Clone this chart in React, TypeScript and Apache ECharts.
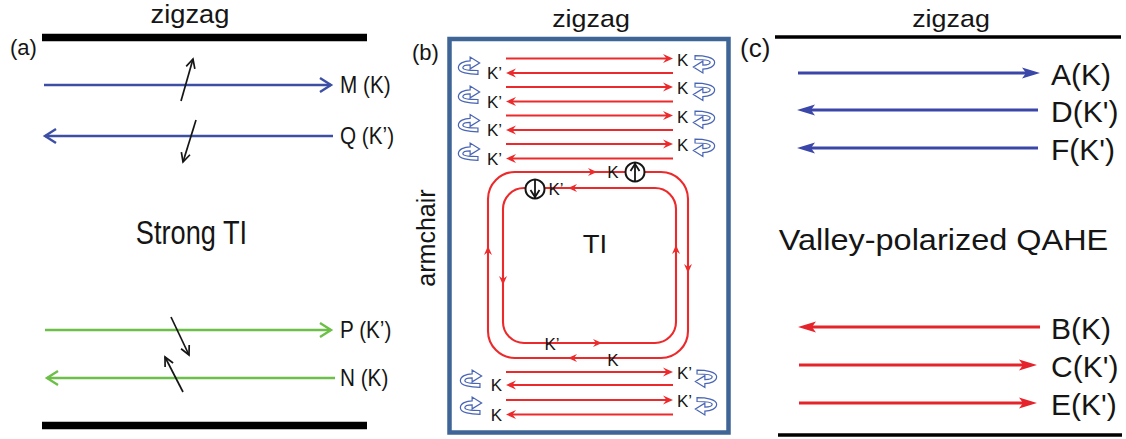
import React, { useEffect, useRef } from "react";
import * as echarts from "echarts";

const WIDTH = 1126;
const HEIGHT = 439;
const FONT = "'Liberation Sans', Arial, Helvetica, sans-serif";

// ---------------- Panel (a): strong TI ----------------
const aBarLines = [[42, 367, 37.5], [42, 367, 425.5]]; // x0, x1, y
const aEdgeArrows = [[44, 331, 85], [333, 45, 136], [45, 331, 330], [335, 47, 378]]; // xStart, xTip, y
const aEdgeLabels = ["M (K)", "Q (K’)", "P (K’)", "N (K)"];
const aEdgeKinds = ["blue", "blue", "green", "green"];
const aSpinArrows = [[181, 101, 193, 59], [196, 120, 183, 162], [171, 317, 189, 355], [183, 392, 165, 357]]; // x0,y0 -> x1,y1

// ---------------- Panel (b): ribbon ----------------
const bFrame = [449.5, 39, 728.5, 432.5]; // left, top, right, bottom
const bStripX = [506, 673];
const bStripY = [58.5, 73, 87, 101.5, 115.5, 130, 144, 158.5, 372, 385, 400, 414.5];
const bStripDir = [1, -1, 1, -1, 1, -1, 1, -1, 1, -1, 1, -1];
const bStripLabels = ["K", "K’", "K", "K’", "K", "K’", "K", "K’", "K’", "K", "K’", "K"];
const bTurnLeft = [[469, 66], [469, 95], [469, 123.5], [469, 152], [471, 379], [471, 406]];
const bTurnRight = [[704, 64], [704, 91.5], [704, 119.5], [704, 147.5], [706, 378.5], [706, 406]];
const bLoops = [[488, 172, 688, 358], [503, 188, 676, 343]]; // left, top, right, bottom
const bLoopArrows = [
  [592, 172, 1, 0], [688, 268, 0, 1], [573, 358, -1, 0], [488, 251, 0, -1],
  [573, 188, -1, 0], [503, 280, 0, 1], [597, 343, 1, 0], [676, 250, 0, -1],
]; // x, y, dirX, dirY
const bLoopLabels = ["K", "K’", "K’", "K"];
const bLoopLabelPos = [[613, 172], [556, 189], [552, 344], [613, 360]];
const bSpinCircles = [[635, 172, 1], [535, 189, -1]]; // cx, cy, spin (1 up, -1 down)

// ---------------- Panel (c): valley-polarized QAHE ----------------
const cRules = [[775, 1121, 37], [778, 1122, 435]];
const cEdgeArrows = [[798, 1040, 73], [1038, 797, 110], [1038, 797, 148], [1040, 798, 327], [799, 1037, 365], [799, 1037, 403]];
const cEdgeLabels = ["A(K)", "D(K')", "F(K')", "B(K)", "C(K')", "E(K')"];
const cEdgeKinds = ["blue", "blue", "blue", "red", "red", "red"];

// ---------------- Titles ----------------
const titleTexts = ["zigzag", "zigzag", "zigzag", "(a)", "(b)", "(c)", "Strong TI", "TI", "Valley-polarized QAHE", "armchair"];
const titlePos = [[190, 14.5], [591, 18.5], [951, 18.5], [10, 47], [412, 52], [740, 47.5], [191.5, 232.5], [595, 244], [943.5, 240], [426, 238]];

// styles (kept apart from data)
const titleStyle = [
  { size: 26, align: "center", sx: 1.05, rot: 0 },
  { size: 24, align: "center", sx: 1.12, rot: 0 },
  { size: 24, align: "center", sx: 1.12, rot: 0 },
  { size: 22, align: "left", sx: 1, rot: 0 },
  { size: 22, align: "left", sx: 1, rot: 0 },
  { size: 26, align: "left", sx: 1, rot: 0 },
  { size: 34, align: "center", sx: 0.8, rot: 0 },
  { size: 25, align: "center", sx: 1.1, rot: 0 },
  { size: 29, align: "center", sx: 1.12, rot: 0 },
  { size: 25, align: "center", sx: 1, rot: Math.PI / 2 },
];
const COLORS: any = {
  blueA: "#3D4FA5",
  green: "#6CBF47",
  redB: "#EC2A2C",
  blueC: "#3A46A8",
  redC: "#E5232B",
  frame: "#3E6595",
  turn: "#4864B4",
  ink: "#151515",
};

const TURN_PATH: [string, number[]][] = [
  ["M", [8, 7.5]],
  ["C", [0, 7.5, -9.5, 6, -9.5, 1.5]],
  ["C", [-9.5, -2.5, -4, -4.5, 1, -4.5]],
  ["L", [1, -8]],
  ["L", [9.5, -2.75]],
  ["L", [1, 2.5]],
  ["L", [1, -1]],
  ["C", [-3, -1, -5.5, 0, -5.5, 1.5]],
  ["C", [-5.5, 3.5, 0, 4, 8, 4]],
  ["Z", []],
];
const TURN_SCALE = 1.12;

function turnPath(cx: number, cy: number, s: number) {
  const k = s * TURN_SCALE;
  return TURN_PATH.map(
    ([c, arr]) => c + " " + arr.map((v, i) => (i % 2 === 0 ? cx + k * v : cy + k * v).toFixed(2)).join(" ")
  ).join(" ");
}

function head(tip: number[], from: number[], len: number, half: number, notch?: number) {
  const dx = tip[0] - from[0];
  const dy = tip[1] - from[1];
  const L = Math.hypot(dx, dy) || 1;
  const ux = dx / L;
  const uy = dy / L;
  const px = -uy;
  const py = ux;
  const bx = tip[0] - ux * len;
  const by = tip[1] - uy * len;
  const pts: number[][] = [[bx + px * half, by + py * half], [tip[0], tip[1]], [bx - px * half, by - py * half]];
  if (notch) pts.push([tip[0] - ux * notch, tip[1] - uy * notch]);
  return pts;
}

function txt(x: number, y: number, text: string, size: number, align: string, extra: any = {}) {
  return {
    type: "text",
    x,
    y,
    ...extra,
    style: {
      text,
      fontSize: size,
      fontFamily: FONT,
      fill: COLORS.ink,
      align,
      verticalAlign: "middle",
    },
  };
}

function series(name: string, data: any[], renderItem: any, z = 2) {
  return {
    type: "custom",
    name,
    coordinateSystem: "cartesian2d",
    data,
    renderItem,
    silent: true,
    z,
    clip: false,
  };
}

function buildOption() {
  return {
    animation: false,
    backgroundColor: "#ffffff",
    grid: { left: 0, right: 0, top: 0, bottom: 0 },
    xAxis: { type: "value", min: 0, max: WIDTH, show: false },
    yAxis: { type: "value", min: 0, max: HEIGHT, inverse: true, show: false },
    series: [
      // panel (a) thick bars
      series("aBars", aBarLines, (p: any, api: any) => {
        const [x0, x1, y] = aBarLines[p.dataIndex];
        const a = api.coord([x0, y]);
        const b = api.coord([x1, y]);
        return { type: "line", shape: { x1: a[0], y1: a[1], x2: b[0], y2: b[1] }, style: { stroke: "#000", lineWidth: 7.5 } };
      }),
      // panel (a) edge arrows
      series("aEdges", aEdgeArrows, (p: any, api: any) => {
        const i = p.dataIndex;
        const [x0, x1, y] = aEdgeArrows[i];
        const a = api.coord([x0, y]);
        const b = api.coord([x1, y]);
        const color = aEdgeKinds[i] === "blue" ? COLORS.blueA : COLORS.green;
        const lab = api.coord([340, y]);
        return {
          type: "group",
          children: [
            { type: "line", shape: { x1: a[0], y1: a[1], x2: b[0], y2: b[1] }, style: { stroke: color, lineWidth: 2.4 } },
            { type: "polyline", shape: { points: head(b, a, 11, 7) }, style: { stroke: color, lineWidth: 2.4, fill: "none" } },
            txt(lab[0], lab[1], aEdgeLabels[i], 23, "left", { scaleX: 0.9 }),
          ],
        };
      }),
      // panel (a) spin arrows
      series("aSpins", aSpinArrows, (p: any, api: any) => {
        const [x0, y0, x1, y1] = aSpinArrows[p.dataIndex];
        const a = api.coord([x0, y0]);
        const b = api.coord([x1, y1]);
        return {
          type: "group",
          children: [
            { type: "line", shape: { x1: a[0], y1: a[1], x2: b[0], y2: b[1] }, style: { stroke: COLORS.ink, lineWidth: 1.7 } },
            { type: "polyline", shape: { points: head(b, a, 9, 4.5) }, style: { stroke: COLORS.ink, lineWidth: 1.7, fill: "none" } },
          ],
        };
      }),
      // panel (b) frame
      series("bFrame", [bFrame], (p: any, api: any) => {
        const a = api.coord([bFrame[0], bFrame[1]]);
        const b = api.coord([bFrame[2], bFrame[3]]);
        return {
          type: "rect",
          shape: { x: a[0], y: a[1], width: b[0] - a[0], height: b[1] - a[1] },
          style: { fill: "none", stroke: COLORS.frame, lineWidth: 4.5 },
        };
      }),
      // panel (b) strip arrows
      series("bStrips", bStripY, (p: any, api: any) => {
        const i = p.dataIndex;
        const y = bStripY[i];
        const dir = bStripDir[i];
        const start = api.coord([dir > 0 ? bStripX[0] : bStripX[1], y]);
        const tip = api.coord([dir > 0 ? bStripX[1] : bStripX[0], y]);
        const label =
          dir > 0
            ? txt(tip[0] + 4, tip[1] + 1.5, bStripLabels[i], 17, "left")
            : txt(tip[0] - 4, tip[1] + 0.5, bStripLabels[i], 17, "right");
        return {
          type: "group",
          children: [
            { type: "line", shape: { x1: start[0], y1: start[1], x2: tip[0] - dir * 5, y2: tip[1] }, style: { stroke: COLORS.redB, lineWidth: 2.1 } },
            { type: "polygon", shape: { points: head(tip, start, 10, 4.4, 6.5) }, style: { fill: COLORS.redB } },
            label,
          ],
        };
      }),
      // panel (b) U-turn icons, left side
      series("bTurnLeft", bTurnLeft, (p: any, api: any) => {
        const [x, y] = bTurnLeft[p.dataIndex];
        const c = api.coord([x, y]);
        return { type: "path", shape: { pathData: turnPath(c[0], c[1], 1) }, style: { fill: "#ffffff", stroke: COLORS.turn, lineWidth: 1.2 } };
      }),
      // panel (b) U-turn icons, right side
      series("bTurnRight", bTurnRight, (p: any, api: any) => {
        const [x, y] = bTurnRight[p.dataIndex];
        const c = api.coord([x, y]);
        return { type: "path", shape: { pathData: turnPath(c[0], c[1], -1) }, style: { fill: "#ffffff", stroke: COLORS.turn, lineWidth: 1.2 } };
      }),
      // panel (b) TI loops
      series("bLoops", bLoops, (p: any, api: any) => {
        const [l, t, r, b] = bLoops[p.dataIndex];
        const a = api.coord([l, t]);
        const c = api.coord([r, b]);
        return {
          type: "rect",
          shape: { x: a[0], y: a[1], width: c[0] - a[0], height: c[1] - a[1], r: p.dataIndex === 0 ? 27 : 21 },
          style: { fill: "none", stroke: COLORS.redB, lineWidth: 2.1 },
        };
      }),
      series("bLoopArrows", bLoopArrows, (p: any, api: any) => {
        const [x, y, dx, dy] = bLoopArrows[p.dataIndex];
        const tip = api.coord([x + dx * 5, y + dy * 5]);
        const from = api.coord([x - dx * 5, y - dy * 5]);
        return { type: "polygon", shape: { points: head(tip, from, 9, 4, 6) }, style: { fill: COLORS.redB } };
      }, 3),
      series("bLoopLabels", bLoopLabelPos, (p: any, api: any) => {
        const [x, y] = bLoopLabelPos[p.dataIndex];
        const c = api.coord([x, y]);
        return txt(c[0], c[1], bLoopLabels[p.dataIndex], 17, "center");
      }, 4),
      series("bSpins", bSpinCircles, (p: any, api: any) => {
        const [x, y, s] = bSpinCircles[p.dataIndex];
        const c = api.coord([x, y]);
        const r = 9.5;
        return {
          type: "group",
          children: [
            { type: "circle", shape: { cx: c[0], cy: c[1], r }, style: { fill: "#ffffff", stroke: COLORS.ink, lineWidth: 2 } },
            { type: "line", shape: { x1: c[0], y1: c[1] + s * r, x2: c[0], y2: c[1] - s * r }, style: { stroke: COLORS.ink, lineWidth: 1.8 } },
            {
              type: "polyline",
              shape: { points: [[c[0] - 4.5, c[1] - s * 1], [c[0], c[1] - s * 8], [c[0] + 4.5, c[1] - s * 1]] },
              style: { stroke: COLORS.ink, lineWidth: 1.8, fill: "none" },
            },
          ],
        };
      }, 4),
      // panel (c) rules
      series("cRules", cRules, (p: any, api: any) => {
        const [x0, x1, y] = cRules[p.dataIndex];
        const a = api.coord([x0, y]);
        const b = api.coord([x1, y]);
        return { type: "line", shape: { x1: a[0], y1: a[1], x2: b[0], y2: b[1] }, style: { stroke: "#000", lineWidth: 3.5 } };
      }),
      // panel (c) edge arrows
      series("cEdges", cEdgeArrows, (p: any, api: any) => {
        const i = p.dataIndex;
        const [x0, x1, y] = cEdgeArrows[i];
        const a = api.coord([x0, y]);
        const b = api.coord([x1, y]);
        const dir = Math.sign(b[0] - a[0]);
        const color = cEdgeKinds[i] === "blue" ? COLORS.blueC : COLORS.redC;
        const lab = api.coord([1051, y]);
        return {
          type: "group",
          children: [
            { type: "line", shape: { x1: a[0], y1: a[1], x2: b[0] - dir * 10, y2: b[1] }, style: { stroke: color, lineWidth: 3 } },
            { type: "polygon", shape: { points: head(b, a, 18, 5.5, 14) }, style: { fill: color } },
            txt(lab[0], lab[1] + 1.5, cEdgeLabels[i], 30, "left"),
          ],
        };
      }),
      // titles
      series("titles", titlePos, (p: any, api: any) => {
        const i = p.dataIndex;
        const [x, y] = titlePos[i];
        const c = api.coord([x, y]);
        const st = titleStyle[i];
        return txt(c[0], c[1], titleTexts[i], st.size, st.align, { scaleX: st.sx, rotation: st.rot });
      }, 5),
    ],
  };
}

export default function App() {
  const ref = useRef<HTMLDivElement>(null);
  useEffect(() => {
    if (!ref.current) return;
    const chart = echarts.init(ref.current, null, { renderer: "svg" });
    chart.setOption(buildOption() as any);
    return () => chart.dispose();
  }, []);
  return (
    <div
      ref={ref}
      style={{ position: "fixed", left: 0, top: 0, width: WIDTH, height: HEIGHT, background: "#ffffff" }}
    />
  );
}
